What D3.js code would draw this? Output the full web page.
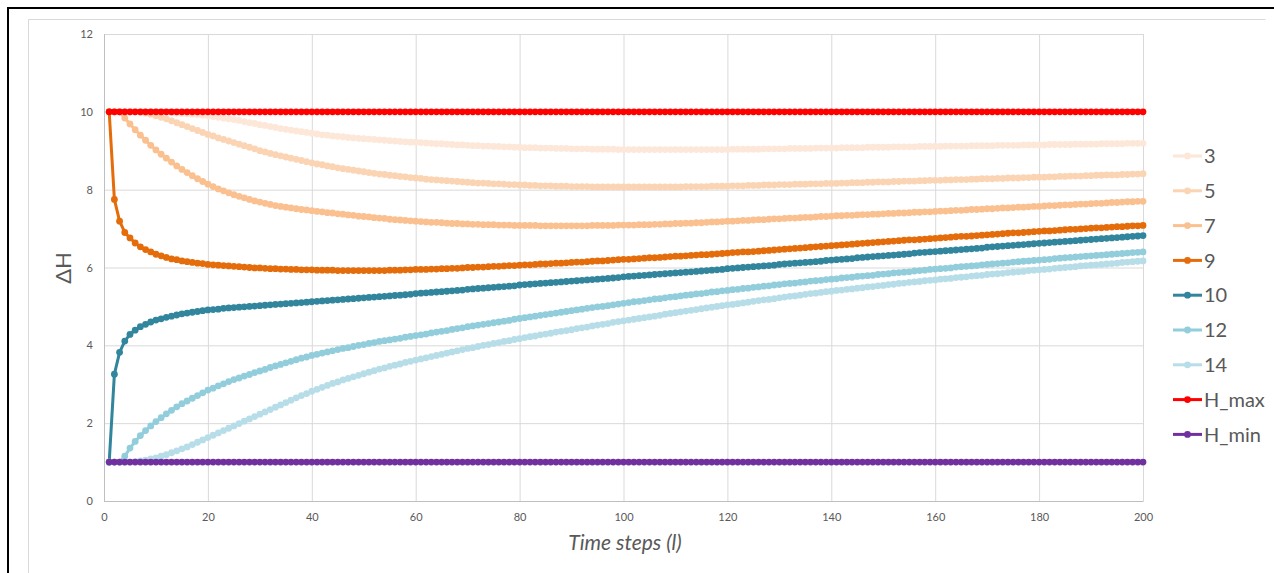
<!DOCTYPE html>
<html>
<head>
<meta charset="utf-8">
<script src="https://d3js.org/d3.v7.min.js"></script>
<style>
    body { margin: 0; background: #fff; }
    text { font-family: Lato, "Open Sans", sans-serif; }
</style>
</head>
<body>
<div class="chart"></div>
<script>

// time steps on the x axis
const steps = d3.range(1, 201);

const s3 = [
    10,10,10,10,10,10,10,10,10,10,
    9.99,9.99,9.98,9.97,9.96,9.95,9.94,9.93,9.91,9.90,
    9.88,9.86,9.84,9.82,9.80,9.78,9.75,9.72,9.70,9.67,
    9.65,9.62,9.60,9.57,9.55,9.53,9.51,9.49,9.47,9.45,
    9.43,9.41,9.40,9.38,9.37,9.36,9.34,9.33,9.32,9.31,
    9.30,9.29,9.28,9.27,9.26,9.25,9.24,9.23,9.22,9.22,
    9.21,9.20,9.19,9.18,9.18,9.17,9.16,9.15,9.15,9.14,
    9.13,9.13,9.12,9.12,9.11,9.11,9.10,9.10,9.09,9.09,
    9.08,9.08,9.08,9.07,9.07,9.07,9.06,9.06,9.06,9.05,
    9.05,9.05,9.05,9.04,9.04,9.04,9.04,9.04,9.03,9.03,
    9.03,9.03,9.03,9.03,9.03,9.03,9.03,9.03,9.03,9.03,
    9.03,9.03,9.03,9.03,9.03,9.03,9.03,9.03,9.03,9.03,
    9.04,9.04,9.04,9.04,9.04,9.04,9.05,9.05,9.05,9.05,
    9.05,9.06,9.06,9.06,9.06,9.06,9.07,9.07,9.07,9.07,
    9.07,9.08,9.08,9.08,9.08,9.08,9.09,9.09,9.09,9.09,
    9.09,9.10,9.10,9.10,9.10,9.10,9.11,9.11,9.11,9.11,
    9.11,9.12,9.12,9.12,9.12,9.12,9.13,9.13,9.13,9.13,
    9.13,9.14,9.14,9.14,9.14,9.14,9.15,9.15,9.15,9.15,
    9.15,9.16,9.16,9.16,9.16,9.16,9.17,9.17,9.17,9.17,
    9.17,9.18,9.18,9.18,9.18,9.18,9.19,9.19,9.19,9.19
];

const s5 = [
    10,10,10,10,10,10,9.99,9.97,9.94,9.90,
    9.86,9.82,9.77,9.72,9.67,9.62,9.57,9.52,9.47,9.42,
    9.38,9.33,9.29,9.25,9.21,9.17,9.13,9.09,9.05,9.00,
    8.97,8.93,8.90,8.87,8.84,8.81,8.78,8.75,8.72,8.69,
    8.66,8.64,8.61,8.59,8.56,8.54,8.52,8.50,8.48,8.46,
    8.44,8.42,8.40,8.39,8.37,8.36,8.34,8.33,8.31,8.30,
    8.29,8.27,8.26,8.25,8.24,8.23,8.22,8.21,8.20,8.19,
    8.18,8.17,8.17,8.16,8.15,8.15,8.14,8.13,8.13,8.12,
    8.12,8.11,8.11,8.10,8.10,8.10,8.09,8.09,8.09,8.08,
    8.08,8.08,8.08,8.07,8.07,8.07,8.07,8.07,8.07,8.07,
    8.07,8.07,8.07,8.07,8.07,8.07,8.07,8.07,8.07,8.07,
    8.07,8.08,8.08,8.08,8.08,8.08,8.09,8.09,8.09,8.09,
    8.10,8.10,8.10,8.11,8.11,8.11,8.12,8.12,8.12,8.13,
    8.13,8.13,8.14,8.14,8.14,8.15,8.15,8.15,8.16,8.16,
    8.16,8.17,8.17,8.18,8.18,8.18,8.19,8.19,8.20,8.20,
    8.20,8.21,8.21,8.22,8.22,8.22,8.23,8.23,8.24,8.24,
    8.24,8.25,8.25,8.26,8.26,8.26,8.27,8.27,8.28,8.28,
    8.28,8.29,8.29,8.30,8.30,8.30,8.31,8.31,8.32,8.32,
    8.32,8.33,8.33,8.34,8.34,8.35,8.35,8.35,8.36,8.36,
    8.37,8.37,8.38,8.38,8.38,8.39,8.39,8.40,8.40,8.41
];

const s7 = [
    10,10,10,9.84,9.69,9.54,9.40,9.27,9.14,9.02,
    8.91,8.81,8.71,8.61,8.52,8.44,8.36,8.28,8.21,8.14,
    8.08,8.02,7.97,7.92,7.87,7.83,7.79,7.75,7.71,7.68,
    7.65,7.62,7.59,7.57,7.55,7.53,7.51,7.49,7.48,7.46,
    7.44,7.43,7.41,7.40,7.38,7.37,7.35,7.34,7.32,7.31,
    7.30,7.28,7.27,7.26,7.24,7.23,7.22,7.21,7.20,7.19,
    7.18,7.17,7.16,7.16,7.15,7.14,7.13,7.13,7.12,7.12,
    7.11,7.11,7.10,7.10,7.10,7.09,7.09,7.09,7.08,7.08,
    7.08,7.08,7.08,7.07,7.07,7.07,7.07,7.07,7.07,7.07,
    7.07,7.07,7.07,7.08,7.08,7.08,7.08,7.08,7.09,7.09,
    7.09,7.09,7.10,7.10,7.10,7.11,7.11,7.12,7.12,7.13,
    7.13,7.14,7.14,7.15,7.15,7.16,7.17,7.17,7.18,7.19,
    7.19,7.20,7.21,7.21,7.22,7.23,7.23,7.24,7.25,7.25,
    7.26,7.27,7.27,7.28,7.29,7.29,7.30,7.31,7.31,7.32,
    7.33,7.33,7.34,7.34,7.35,7.36,7.36,7.37,7.37,7.38,
    7.39,7.39,7.40,7.40,7.41,7.42,7.42,7.43,7.43,7.44,
    7.45,7.45,7.46,7.47,7.47,7.48,7.49,7.49,7.50,7.51,
    7.51,7.52,7.53,7.53,7.54,7.55,7.55,7.56,7.57,7.57,
    7.58,7.59,7.59,7.60,7.61,7.61,7.62,7.63,7.63,7.64,
    7.65,7.65,7.66,7.67,7.67,7.68,7.69,7.69,7.70,7.70
];

const s9 = [
    10,7.75,7.19,6.90,6.76,6.63,6.53,6.46,6.40,6.34,
    6.30,6.26,6.22,6.20,6.17,6.15,6.13,6.11,6.10,6.08,
    6.07,6.06,6.05,6.04,6.03,6.02,6.01,6.00,5.99,5.99,
    5.98,5.97,5.97,5.96,5.96,5.95,5.95,5.94,5.94,5.94,
    5.93,5.93,5.93,5.93,5.92,5.92,5.92,5.92,5.92,5.92,
    5.92,5.92,5.92,5.92,5.93,5.93,5.93,5.94,5.94,5.95,
    5.95,5.95,5.96,5.96,5.97,5.97,5.98,5.98,5.99,6.00,
    6.00,6.01,6.01,6.02,6.03,6.03,6.04,6.05,6.05,6.06,
    6.07,6.07,6.08,6.09,6.09,6.10,6.11,6.11,6.12,6.13,
    6.14,6.14,6.15,6.16,6.17,6.17,6.18,6.19,6.20,6.21,
    6.21,6.22,6.23,6.24,6.25,6.25,6.26,6.27,6.28,6.29,
    6.29,6.30,6.31,6.32,6.33,6.33,6.34,6.35,6.36,6.37,
    6.38,6.39,6.40,6.40,6.41,6.42,6.43,6.44,6.45,6.46,
    6.47,6.48,6.49,6.50,6.51,6.52,6.53,6.54,6.55,6.56,
    6.57,6.58,6.59,6.60,6.61,6.62,6.63,6.64,6.65,6.66,
    6.67,6.68,6.69,6.70,6.71,6.71,6.72,6.73,6.74,6.75,
    6.76,6.77,6.78,6.79,6.80,6.80,6.81,6.82,6.83,6.84,
    6.85,6.86,6.87,6.88,6.89,6.89,6.90,6.91,6.92,6.93,
    6.94,6.94,6.95,6.96,6.97,6.98,6.98,6.99,7.00,7.01,
    7.02,7.02,7.03,7.04,7.05,7.05,7.06,7.07,7.07,7.08
];

const s10 = [
    1,3.26,3.82,4.11,4.28,4.39,4.48,4.54,4.60,4.65,
    4.68,4.72,4.75,4.78,4.81,4.83,4.85,4.87,4.89,4.91,
    4.92,4.93,4.95,4.96,4.97,4.98,4.99,5.00,5.01,5.02,
    5.03,5.04,5.05,5.06,5.07,5.08,5.09,5.10,5.11,5.12,
    5.13,5.14,5.15,5.16,5.17,5.18,5.19,5.20,5.21,5.22,
    5.23,5.24,5.25,5.26,5.27,5.28,5.29,5.30,5.31,5.33,
    5.34,5.35,5.36,5.37,5.38,5.39,5.40,5.41,5.42,5.44,
    5.45,5.46,5.47,5.48,5.49,5.50,5.51,5.52,5.53,5.55,
    5.56,5.57,5.58,5.59,5.60,5.61,5.62,5.63,5.64,5.65,
    5.66,5.67,5.68,5.69,5.70,5.71,5.72,5.73,5.74,5.76,
    5.77,5.78,5.79,5.80,5.81,5.82,5.83,5.84,5.85,5.86,
    5.87,5.88,5.89,5.90,5.91,5.92,5.93,5.94,5.95,5.97,
    5.98,5.99,6.00,6.01,6.02,6.03,6.04,6.05,6.06,6.08,
    6.09,6.10,6.11,6.12,6.13,6.14,6.15,6.16,6.18,6.19,
    6.20,6.21,6.22,6.23,6.25,6.26,6.27,6.28,6.29,6.30,
    6.31,6.32,6.33,6.34,6.35,6.37,6.38,6.39,6.40,6.41,
    6.42,6.43,6.44,6.45,6.46,6.47,6.48,6.49,6.50,6.52,
    6.53,6.54,6.55,6.56,6.57,6.58,6.59,6.60,6.61,6.62,
    6.63,6.64,6.65,6.66,6.67,6.68,6.69,6.70,6.71,6.72,
    6.73,6.74,6.75,6.76,6.77,6.78,6.79,6.80,6.81,6.82
];

const s12 = [
    1,1,1,1.15,1.36,1.53,1.68,1.81,1.93,2.04,
    2.14,2.24,2.33,2.42,2.50,2.57,2.64,2.71,2.78,2.85,
    2.90,2.96,3.01,3.07,3.12,3.16,3.21,3.25,3.30,3.34,
    3.38,3.43,3.47,3.51,3.55,3.59,3.63,3.67,3.70,3.74,
    3.77,3.80,3.83,3.86,3.89,3.92,3.94,3.97,4.00,4.02,
    4.05,4.07,4.10,4.12,4.14,4.16,4.18,4.21,4.23,4.25,
    4.27,4.29,4.32,4.34,4.36,4.38,4.41,4.43,4.45,4.48,
    4.50,4.52,4.54,4.56,4.58,4.60,4.62,4.64,4.67,4.69,
    4.71,4.73,4.75,4.77,4.79,4.81,4.83,4.85,4.87,4.89,
    4.91,4.93,4.95,4.97,4.99,5.00,5.02,5.04,5.06,5.08,
    5.10,5.12,5.13,5.15,5.17,5.19,5.20,5.22,5.24,5.25,
    5.27,5.29,5.30,5.32,5.33,5.35,5.37,5.38,5.40,5.41,
    5.43,5.44,5.46,5.47,5.49,5.50,5.52,5.53,5.55,5.56,
    5.58,5.59,5.60,5.62,5.63,5.65,5.66,5.67,5.69,5.70,
    5.71,5.73,5.74,5.75,5.77,5.78,5.79,5.80,5.82,5.83,
    5.84,5.86,5.87,5.88,5.89,5.91,5.92,5.93,5.95,5.96,
    5.97,5.98,5.99,6.01,6.02,6.03,6.04,6.05,6.07,6.08,
    6.09,6.10,6.11,6.12,6.14,6.15,6.16,6.17,6.18,6.19,
    6.20,6.21,6.23,6.24,6.25,6.26,6.27,6.28,6.29,6.30,
    6.31,6.32,6.33,6.34,6.35,6.36,6.37,6.38,6.39,6.40
];

const s14 = [
    1,1,1,1,1,1.01,1.03,1.05,1.08,1.11,
    1.15,1.19,1.24,1.29,1.34,1.39,1.45,1.51,1.57,1.63,
    1.69,1.75,1.81,1.87,1.93,1.99,2.05,2.11,2.17,2.23,
    2.29,2.35,2.41,2.47,2.53,2.59,2.65,2.71,2.76,2.82,
    2.87,2.92,2.97,3.02,3.06,3.11,3.15,3.19,3.23,3.27,
    3.31,3.35,3.39,3.42,3.46,3.49,3.52,3.56,3.59,3.62,
    3.65,3.68,3.71,3.74,3.77,3.80,3.83,3.86,3.89,3.92,
    3.94,3.97,4.00,4.02,4.05,4.07,4.10,4.12,4.15,4.17,
    4.20,4.22,4.24,4.27,4.29,4.31,4.34,4.36,4.38,4.40,
    4.43,4.45,4.47,4.50,4.52,4.54,4.56,4.59,4.61,4.63,
    4.65,4.67,4.69,4.71,4.73,4.75,4.77,4.80,4.82,4.84,
    4.86,4.88,4.90,4.92,4.94,4.96,4.98,5.00,5.02,5.04,
    5.05,5.07,5.09,5.11,5.13,5.15,5.17,5.18,5.20,5.22,
    5.24,5.26,5.27,5.29,5.31,5.33,5.34,5.36,5.38,5.39,
    5.41,5.42,5.44,5.45,5.47,5.48,5.50,5.51,5.53,5.54,
    5.56,5.57,5.59,5.60,5.62,5.63,5.64,5.66,5.67,5.68,
    5.70,5.71,5.72,5.74,5.75,5.76,5.78,5.79,5.80,5.82,
    5.83,5.84,5.85,5.87,5.88,5.89,5.90,5.92,5.93,5.94,
    5.95,5.96,5.98,5.99,6.00,6.01,6.02,6.04,6.05,6.06,
    6.07,6.08,6.09,6.10,6.11,6.13,6.14,6.15,6.16,6.17
];

const hMax = [
    10,10,10,10,10,10,10,10,10,10,10,10,10,10,10,10,10,10,10,10,
    10,10,10,10,10,10,10,10,10,10,10,10,10,10,10,10,10,10,10,10,
    10,10,10,10,10,10,10,10,10,10,10,10,10,10,10,10,10,10,10,10,
    10,10,10,10,10,10,10,10,10,10,10,10,10,10,10,10,10,10,10,10,
    10,10,10,10,10,10,10,10,10,10,10,10,10,10,10,10,10,10,10,10,
    10,10,10,10,10,10,10,10,10,10,10,10,10,10,10,10,10,10,10,10,
    10,10,10,10,10,10,10,10,10,10,10,10,10,10,10,10,10,10,10,10,
    10,10,10,10,10,10,10,10,10,10,10,10,10,10,10,10,10,10,10,10,
    10,10,10,10,10,10,10,10,10,10,10,10,10,10,10,10,10,10,10,10,
    10,10,10,10,10,10,10,10,10,10,10,10,10,10,10,10,10,10,10,10
];

const hMin = [
    1,1,1,1,1,1,1,1,1,1,1,1,1,1,1,1,1,1,1,1,
    1,1,1,1,1,1,1,1,1,1,1,1,1,1,1,1,1,1,1,1,
    1,1,1,1,1,1,1,1,1,1,1,1,1,1,1,1,1,1,1,1,
    1,1,1,1,1,1,1,1,1,1,1,1,1,1,1,1,1,1,1,1,
    1,1,1,1,1,1,1,1,1,1,1,1,1,1,1,1,1,1,1,1,
    1,1,1,1,1,1,1,1,1,1,1,1,1,1,1,1,1,1,1,1,
    1,1,1,1,1,1,1,1,1,1,1,1,1,1,1,1,1,1,1,1,
    1,1,1,1,1,1,1,1,1,1,1,1,1,1,1,1,1,1,1,1,
    1,1,1,1,1,1,1,1,1,1,1,1,1,1,1,1,1,1,1,1,
    1,1,1,1,1,1,1,1,1,1,1,1,1,1,1,1,1,1,1,1
];

const seriesNames = ["3", "5", "7", "9", "10", "12", "14", "H_max", "H_min"];
const seriesValues = [s3, s5, s7, s9, s10, s12, s14, hMax, hMin];
const seriesColors = ["#fde7d8", "#fbd4b4", "#fac08f", "#e46c0a", "#31859c", "#92cddc", "#b7dee8", "#ff0000", "#7030a0"];

const yTicks = [0, 2, 4, 6, 8, 10, 12];
const xTicks = [0, 20, 40, 60, 80, 100, 120, 140, 160, 180, 200];


var width = 1274,
    height = 573;

const plot = {left: 104, right: 1143, top: 34, bottom: 501};

const svg = d3.select(".chart")
    .append("svg")
    .attr("width", width)
    .attr("height", height);

// frame round the chart
svg.append("path")
    .attr("d", "M8,573 V8 H1274")
    .attr("fill", "none")
    .attr("stroke", "#000")
    .attr("stroke-width", 2);

svg.append("path")
    .attr("d", "M28.5,573 V19.5 H1265.5")
    .attr("fill", "none")
    .attr("stroke", "#d9d9d9")
    .attr("stroke-width", 1);

var x = d3.scaleLinear()
    .domain([0, 200])
    .range([plot.left, plot.right]);

var y = d3.scaleLinear()
    .domain([0, 12])
    .range([plot.bottom, plot.top]);

//****************************************  axes and grid  ****************************************

const yAxis = svg.append("g")
    .attr("transform", "translate(" + plot.left + ",0)")
    .call(d3.axisLeft(y).tickValues(yTicks).tickSize(-(plot.right - plot.left)).tickPadding(11));

const xAxis = svg.append("g")
    .attr("transform", "translate(0," + plot.bottom + ")")
    .call(d3.axisBottom(x).tickValues(xTicks).tickSize(-(plot.bottom - plot.top)).tickPadding(12));

[yAxis, xAxis].forEach(a => {
    a.select(".domain").remove();
    a.selectAll(".tick line").attr("stroke", "#d9d9d9");
    a.selectAll(".tick text")
        .attr("fill", "#595959")
        .style("font-size", "11px");
});

svg.append("rect")
    .attr("x", plot.left + 0.5)
    .attr("y", plot.top + 0.5)
    .attr("width", plot.right - plot.left)
    .attr("height", plot.bottom - plot.top)
    .attr("fill", "none")
    .attr("stroke", "#d9d9d9");

svg.append("line")
    .attr("x1", plot.left).attr("x2", plot.right)
    .attr("y1", plot.bottom + 0.5).attr("y2", plot.bottom + 0.5)
    .attr("stroke", "#bfbfbf");

svg.append("line")
    .attr("x1", plot.left + 0.5).attr("x2", plot.left + 0.5)
    .attr("y1", plot.top).attr("y2", plot.bottom)
    .attr("stroke", "#bfbfbf");

svg.append("text")
    .attr("transform", "translate(63,268) rotate(-90)")
    .attr("text-anchor", "middle")
    .attr("dy", "0.35em")
    .attr("fill", "#595959")
    .style("font-size", "22px")
    .text("ΔH");

svg.append("text")
    .attr("x", 625)
    .attr("y", 550)
    .attr("text-anchor", "middle")
    .attr("fill", "#595959")
    .style("font-size", "21px")
    .style("font-style", "italic")
    .text("Time steps (l)");

//****************************************  series  ****************************************

const line = d3.line()
    .x((d, i) => x(steps[i]))
    .y(d => y(d));

seriesValues.forEach((vals, k) => {
    const g = svg.append("g").attr("class", "series");
    g.append("path")
        .datum(vals)
        .attr("d", line)
        .attr("fill", "none")
        .attr("stroke", seriesColors[k])
        .attr("stroke-width", 3)
        .attr("stroke-linejoin", "round");
    g.selectAll("circle")
        .data(vals)
        .enter().append("circle")
        .attr("cx", (d, i) => x(steps[i]))
        .attr("cy", d => y(d))
        .attr("r", 3.4)
        .attr("fill", seriesColors[k]);
});

//****************************************  legend  ****************************************

const legend = svg.append("g")
    .selectAll("g")
    .data(seriesNames)
    .enter().append("g")
    .attr("transform", (d, i) => "translate(1173," + (156 + i * 34.8) + ")");

legend.append("line")
    .attr("x1", 0).attr("x2", 29)
    .attr("stroke", (d, i) => seriesColors[i])
    .attr("stroke-width", 3);

legend.append("circle")
    .attr("cx", 14.5)
    .attr("r", 3.4)
    .attr("fill", (d, i) => seriesColors[i]);

legend.append("text")
    .attr("x", 31)
    .attr("dy", "0.36em")
    .attr("fill", "#595959")
    .style("font-size", "20px")
    .text(d => d);

</script>
</body>
</html>
